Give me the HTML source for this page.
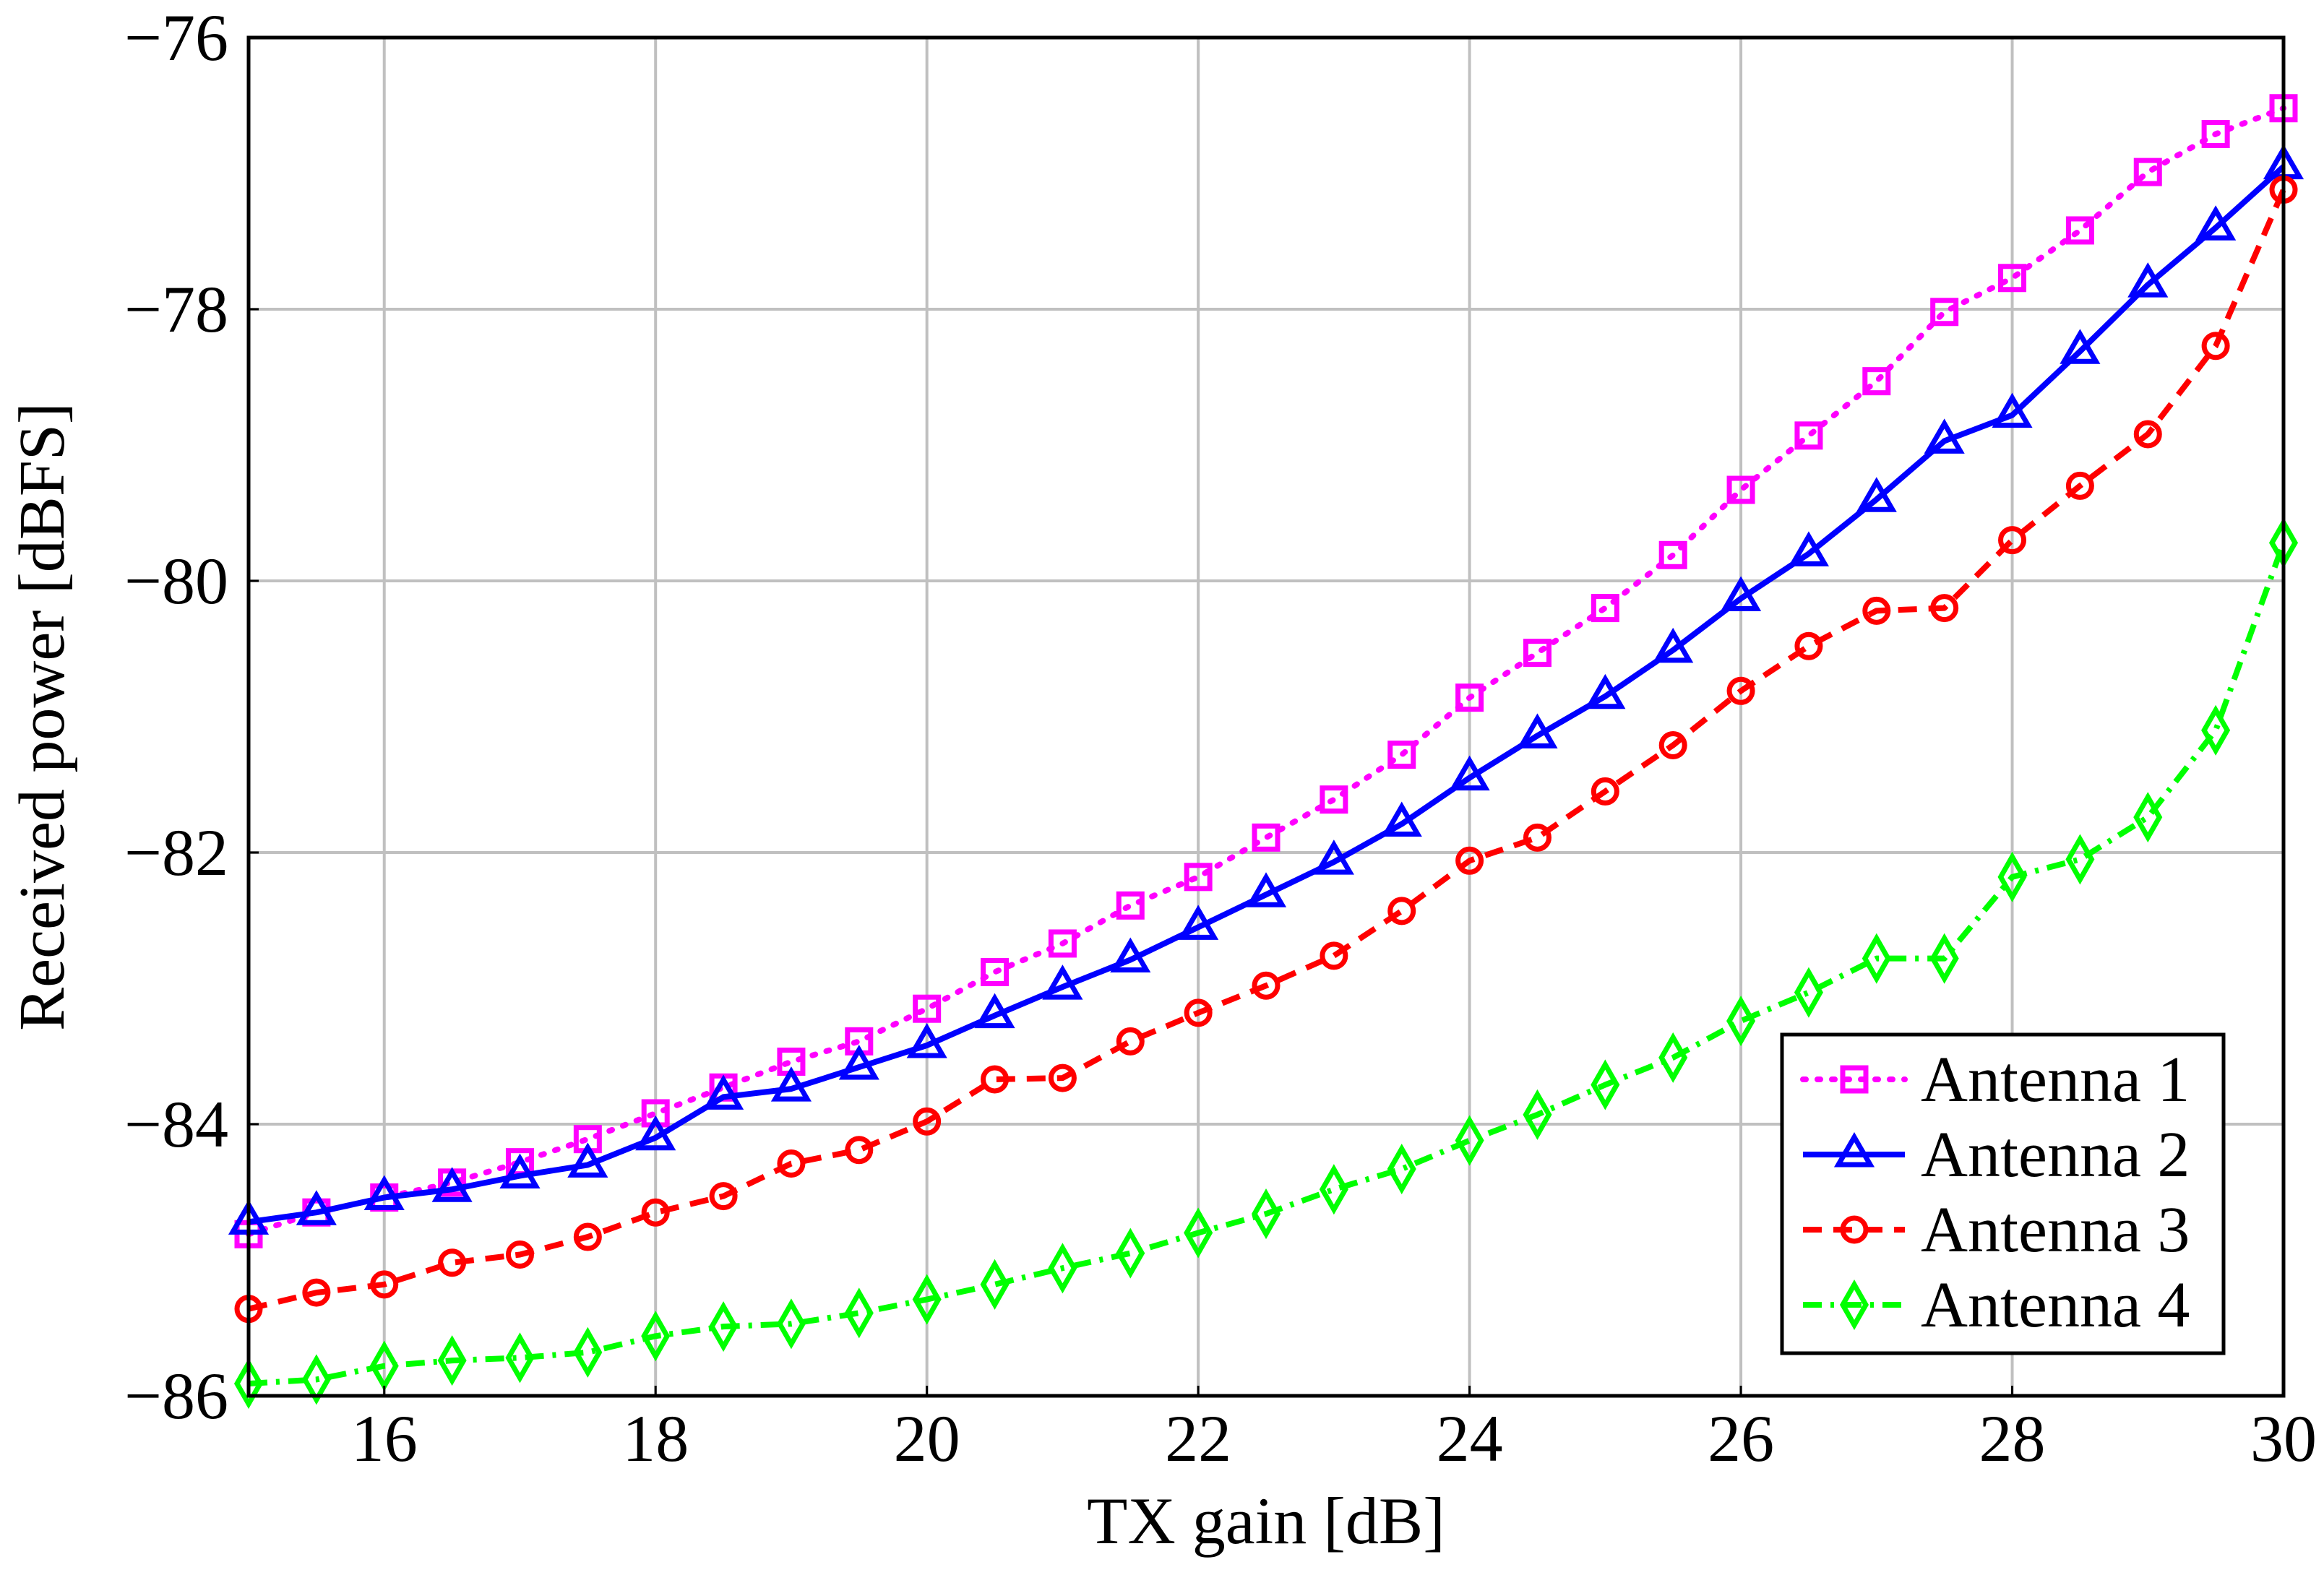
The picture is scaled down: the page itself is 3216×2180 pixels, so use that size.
<!DOCTYPE html>
<html><head><meta charset="utf-8"><style>
html,body{margin:0;padding:0;background:#fff;}
svg{display:block;}
text{font-family:"Liberation Serif",serif;fill:#000;}
</style></head><body>
<svg id="chart" width="3216" height="2180" viewBox="0 0 3216 2180" xmlns="http://www.w3.org/2000/svg">
<g id="grid"></g>
<g id="series"></g>
<g id="axes"></g>
<g id="legend"></g>
</svg>
<script>
const xValues = [15,15.5,16,16.5,17,17.5,18,18.5,19,19.5,20,20.5,21,21.5,22,22.5,23,23.5,24,24.5,25,25.5,26,26.5,27,27.5,28,28.5,29,29.5,30];
const antenna1 = [-84.81,-84.65,-84.54,-84.43,-84.28,-84.11,-83.92,-83.73,-83.54,-83.39,-83.15,-82.88,-82.67,-82.39,-82.18,-81.89,-81.61,-81.28,-80.86,-80.53,-80.20,-79.81,-79.33,-78.93,-78.53,-78.02,-77.77,-77.42,-76.99,-76.71,-76.52];
const antenna2 = [-84.72,-84.65,-84.54,-84.48,-84.38,-84.30,-84.10,-83.80,-83.74,-83.58,-83.42,-83.20,-82.99,-82.79,-82.55,-82.31,-82.07,-81.79,-81.45,-81.14,-80.85,-80.51,-80.13,-79.80,-79.40,-78.97,-78.78,-78.31,-77.82,-77.40,-76.95];
const antenna3 = [-85.36,-85.24,-85.18,-85.02,-84.96,-84.83,-84.65,-84.53,-84.29,-84.19,-83.98,-83.67,-83.66,-83.39,-83.18,-82.98,-82.76,-82.43,-82.06,-81.89,-81.55,-81.21,-80.81,-80.48,-80.22,-80.20,-79.70,-79.30,-78.92,-78.27,-77.12];
const antenna4 = [-85.91,-85.88,-85.78,-85.74,-85.72,-85.68,-85.56,-85.49,-85.47,-85.39,-85.29,-85.18,-85.06,-84.95,-84.80,-84.66,-84.48,-84.33,-84.12,-83.93,-83.71,-83.51,-83.24,-83.03,-82.78,-82.78,-82.18,-82.05,-81.74,-81.10,-79.72];
const xTicks = [16,18,20,22,24,26,28,30];
const yTicks = [-86,-84,-82,-80,-78,-76];
const seriesNames = ["Antenna 1","Antenna 2","Antenna 3","Antenna 4"];

const NS="http://www.w3.org/2000/svg";
const L=344,R=3160,T=52,B=1932;
const X0=15,X1=30,Y0=-86,Y1=-76;
function sx(v){return L+(v-X0)/(X1-X0)*(R-L);}
function sy(v){return B-(v-Y0)/(Y1-Y0)*(B-T);}
function mk(tag,attrs,parent){const e=document.createElementNS(NS,tag);for(const k in attrs)e.setAttribute(k,attrs[k]);parent.appendChild(e);return e;}

const grid=document.getElementById('grid');
xTicks.forEach(t=>{const l=mk('line',{x1:sx(t),x2:sx(t),y1:T,y2:B,stroke:'#c0c0c0','stroke-width':4},grid);

});
yTicks.forEach(t=>{const l=mk('line',{x1:L,x2:R,y1:sy(t),y2:sy(t),stroke:'#c0c0c0','stroke-width':4},grid);

});

const styles=[
 {color:'#ff00ff',dash:'4 16',marker:'square',cap:'round'},
 {color:'#0000ff',dash:'',marker:'triangle',cap:'butt'},
 {color:'#ff0000',dash:'26 16',marker:'circle',cap:'butt'},
 {color:'#00ff00',dash:'26 12 5 12',marker:'diamond',cap:'butt'}
];
const allSeries=[antenna1,antenna2,antenna3,antenna4];
function marker(type,x,y,color,parent){
 const a={fill:'none',stroke:color,'stroke-width':7};
 let m;
 if(type==='square'){m=mk('rect',Object.assign({x:x-16,y:y-16,width:32,height:32},a),parent);}
 else if(type==='triangle'){m=mk('polygon',Object.assign({points:`${x},${y-24} ${x+22},${y+14} ${x-22},${y+14}`},a),parent);}
 else if(type==='circle'){m=mk('circle',Object.assign({cx:x,cy:y,r:16},a),parent);}
 else {m=mk('polygon',Object.assign({points:`${x},${y-28} ${x+16},${y} ${x},${y+28} ${x-16},${y}`},a),parent);}
 return m;
}
const sg=document.getElementById('series');
allSeries.forEach((vals,i)=>{
 const st=styles[i];
 const g=mk('g',{},sg);
 
 
 const pts=xValues.map((x,j)=>sx(x)+','+sy(vals[j])).join(' ');
 const pl=mk('polyline',{points:pts,fill:'none',stroke:st.color,'stroke-width':8,'stroke-dasharray':st.dash,'stroke-linecap':st.cap,'stroke-linejoin':'round'},g);
 
 
 xValues.forEach((x,j)=>{const m=marker(st.marker,sx(x),sy(vals[j]),st.color,g);
  
  });
});

const ax=document.getElementById('axes');
const frame=mk('rect',{x:L,y:T,width:R-L,height:B-T,fill:'none',stroke:'#000','stroke-width':5},ax);


xTicks.forEach(t=>{
 const tk=mk('line',{x1:sx(t),x2:sx(t),y1:B,y2:B-14,stroke:'#000','stroke-width':3},ax);
 
 
 const tx=mk('text',{x:sx(t),y:2022,'text-anchor':'middle','font-size':92},ax);
 tx.textContent=String(t);
 
 
});
yTicks.forEach(t=>{
 const tk=mk('line',{x1:L,x2:L+14,y1:sy(t),y2:sy(t),stroke:'#000','stroke-width':3},ax);
 
 
 const tx=mk('text',{x:316,y:sy(t)+31,'text-anchor':'end','font-size':92},ax);
 tx.textContent='\u2212'+Math.abs(t);
 
 
});
const xt=mk('text',{x:(L+R)/2,y:2136,'text-anchor':'middle','font-size':92},ax);
xt.textContent='TX gain [dB]';


const yt=mk('text',{x:0,y:0,'text-anchor':'middle','font-size':90,transform:'translate(88,992) rotate(-90)'},ax);
yt.textContent='Received power [dBFS]';



const lg=document.getElementById('legend');
const box=mk('rect',{x:2466,y:1432,width:611,height:441,fill:'#fff',stroke:'#000','stroke-width':5},lg);


const rowsY=[1494,1598,1702,1806];
seriesNames.forEach((n,i)=>{
 const st=styles[i];
 const g=mk('g',{},lg);
 
 
 const y=rowsY[i];
 mk('line',{x1:2495,x2:2636,y1:y,y2:y,stroke:st.color,'stroke-width':8,'stroke-dasharray':st.dash,'stroke-linecap':st.cap},g);
 marker(st.marker,2566,y,st.color,g);
 const t=mk('text',{x:2658,y:y+30,'font-size':90},g);
 t.textContent=n;
});
</script>
</body></html>
